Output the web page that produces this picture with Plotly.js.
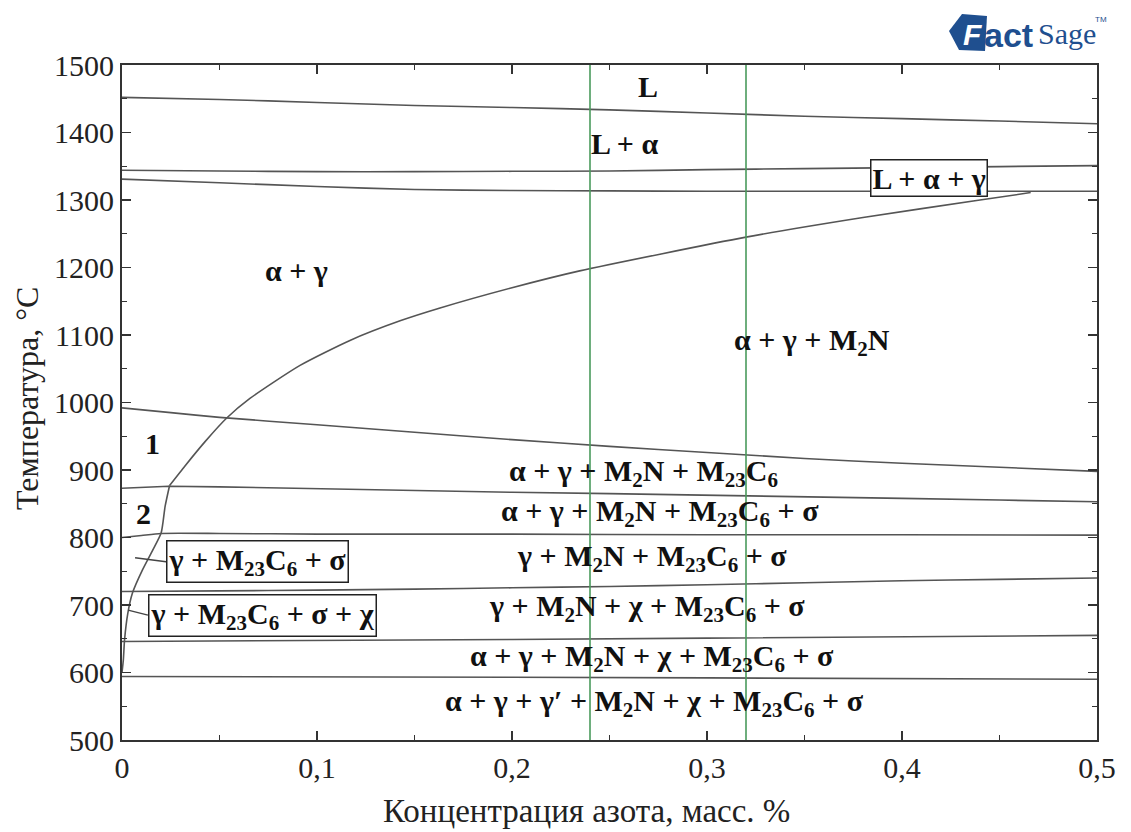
<!DOCTYPE html>
<html>
<head>
<meta charset="utf-8">
<script src="https://cdn.plot.ly/plotly-3.0.1.min.js"></script>
<style>
  html, body { margin: 0; padding: 0; background: #fff; }
  #chart { width: 1131px; height: 832px; }
</style>
</head>
<body>
<div id="chart"></div>
<script>
// Nitrogen content, mass % (common grid for the near-horizontal boundaries)
const nGrid = [0, 0.05, 0.1, 0.15, 0.2, 0.25, 0.3, 0.35, 0.4, 0.45, 0.5];

// Liquidus (L / L + α)
const liquidusT = [1452, 1449, 1444.5, 1440, 1437, 1433.5, 1429, 1424, 1420.5, 1417, 1413];
// L + α / L + α + γ
const gammaStartT = [1344, 1343, 1342, 1342, 1342.5, 1343, 1345, 1346.5, 1348, 1349.5, 1351];
// Solidus (L + α + γ / α + γ)
const solidusT = [1331, 1325.5, 1320, 1315.5, 1314, 1313.5, 1313, 1313, 1313, 1313, 1313];

// M23C6 solvus
const m23c6X = [0, 0.025, 0.05, 0.1, 0.15, 0.2, 0.25, 0.3, 0.35, 0.4, 0.45, 0.5];
const m23c6T = [992, 985, 978, 967, 956, 945, 935, 926, 917, 910, 904, 898];

// σ solvus
const sigmaX = [0, 0.024, 0.05, 0.1, 0.15, 0.2, 0.25, 0.3, 0.35, 0.4, 0.45, 0.5];
const sigmaT = [873, 876, 875, 872, 869, 867, 865, 863, 861, 858, 855.5, 853];

// α dissolution
const alphaEndX = [0, 0.01, 0.02, 0.05, 0.1, 0.2, 0.3, 0.4, 0.5];
const alphaEndT = [800, 803, 806, 806, 805, 805, 804, 804, 803.5];

// χ solvus
const chiT = [720, 721, 722, 723.5, 725.5, 727.5, 730, 733, 736, 738, 740];

// α re-appearance
const alpha2X = [0, 0.1, 0.2, 0.3, 0.4, 0.5];
const alpha2T = [646, 647, 649, 651, 653, 655];

// γ′ solvus
const gammaPrimeT = [594, 594, 593, 592, 591, 590];

// M2N solvus, lower branch (up to the σ solvus)
const m2nLowX = [0, 0.0007, 0.0013, 0.003, 0.0054, 0.0105, 0.0157, 0.0201, 0.0221, 0.0244];
const m2nLowT = [600, 619, 648, 688, 718, 752, 781, 807, 846, 877];
// M2N solvus, upper branch (up to the solidus)
const m2nHighX = [0.0244, 0.0323, 0.0426, 0.0537, 0.0656, 0.0913, 0.1169, 0.1426, 0.1631, 0.2, 0.2347, 0.32, 0.38, 0.44, 0.466];
const m2nHighT = [877, 906, 942, 977, 1006, 1055, 1092, 1121, 1140, 1170, 1195, 1245, 1274, 1300, 1311];

// Compositions of interest
const markedN = [0.24, 0.32];

// Axis ticks
const xTickVals = [0, 0.1, 0.2, 0.3, 0.4, 0.5];
const xTickText = ['0', '0,1', '0,2', '0,3', '0,4', '0,5'];
const yTickVals = [500, 600, 700, 800, 900, 1000, 1100, 1200, 1300, 1400, 1500];

// Axis names
const xName = 'Концентрация азота, масс. %';
const yName = 'Температура, °C';

// Phase field names
const phaseL = 'L';
const phaseLA = 'L + α';
const phaseLAG = 'L + α + γ';
const phaseAG = 'α + γ';
const phaseAGN = 'α + γ + M<sub>2</sub>N';
const phase1 = '1';
const phase2 = '2';
const phaseRow1 = 'α + γ + M<sub>2</sub>N + M<sub>23</sub>C<sub>6</sub>';
const phaseRow2 = 'α + γ + M<sub>2</sub>N + M<sub>23</sub>C<sub>6</sub> + σ';
const phaseRow3 = 'γ + M<sub>2</sub>N + M<sub>23</sub>C<sub>6</sub> + σ';
const phaseRow4 = 'γ + M<sub>2</sub>N + χ + M<sub>23</sub>C<sub>6</sub> + σ';
const phaseRow5 = 'α + γ + M<sub>2</sub>N + χ + M<sub>23</sub>C<sub>6</sub> + σ';
const phaseRow6 = 'α + γ + γ′ + M<sub>2</sub>N + χ + M<sub>23</sub>C<sub>6</sub> + σ';
const phaseBox1 = 'γ + M<sub>23</sub>C<sub>6</sub> + σ';
const phaseBox2 = 'γ + M<sub>23</sub>C<sub>6</sub> + σ + χ';

const LINE = { color: '#555', width: 1.6 };
const SERIF = 'Liberation Serif';

function boundary(x, y, shape) {
  return { x: x, y: y, mode: 'lines', type: 'scatter', hoverinfo: 'skip',
           line: Object.assign({}, LINE, { shape: shape || 'linear', smoothing: 0.6 }), showlegend: false };
}

const traces = [
  boundary(nGrid, liquidusT, 'spline'),
  boundary(nGrid, gammaStartT, 'spline'),
  boundary(nGrid, solidusT, 'spline'),
  boundary(m23c6X, m23c6T, 'spline'),
  boundary(sigmaX, sigmaT),
  boundary(alphaEndX, alphaEndT, 'spline'),
  boundary(nGrid, chiT, 'spline'),
  boundary(alpha2X, alpha2T),
  boundary(alpha2X, gammaPrimeT),
  boundary(m2nLowX, m2nLowT, 'spline'),
  boundary(m2nHighX, m2nHighT, 'spline')
];
markedN.forEach(function (n) {
  traces.push({ x: [n, n], y: [500, 1500], mode: 'lines', type: 'scatter', hoverinfo: 'skip',
                line: { color: '#4a9a5c', width: 1.6 }, showlegend: false });
});

// pixel -> paper helpers for decorations outside the data area
const L = 122, T = 65, W = 975, H = 675;
const pxX = function (p) { return (p - L) / W; };
const pxY = function (p) { return (T + H - p) / H; };

const LABEL_FONT = { family: SERIF, size: 30, color: '#111' };
const BOXED = { bgcolor: '#fff', bordercolor: '#222', borderwidth: 1.5, borderpad: 1 };

function label(text, x, y, extra) {
  return Object.assign({ text: '<b>' + text + '</b>', x: x, y: y, xref: 'x', yref: 'y',
    xanchor: 'center', yanchor: 'middle', showarrow: false, font: LABEL_FONT }, extra || {});
}
function leader(text, tipX, tipT, boxLeftX, boxT) {
  return label(text, tipX, tipT, Object.assign({
    showarrow: true, arrowhead: 0, arrowwidth: 1.4, arrowcolor: '#444',
    ax: boxLeftX, ay: boxT, axref: 'x', ayref: 'y', xanchor: 'left' }, BOXED));
}
function paperText(text, px, py, font, anchor, angle) {
  return { text: text, xref: 'paper', yref: 'paper', x: pxX(px), y: pxY(py), textangle: angle || 0,
           xanchor: anchor || 'left', yanchor: 'middle', showarrow: false, font: font };
}

const annotations = [
  label(phaseL, 0.2696, 1468),
  label(phaseLA, 0.2575, 1384),
  label(phaseLAG, 0.4138, 1332, BOXED),
  label(phaseAG, 0.0895, 1196),
  label(phaseAGN, 0.354, 1089),
  label(phase1, 0.0157, 939),
  label(phase2, 0.011, 836),
  label(phaseRow1, 0.2676, 896),
  label(phaseRow2, 0.276, 836),
  label(phaseRow3, 0.2717, 770),
  label(phaseRow4, 0.269, 696),
  label(phaseRow5, 0.272, 622),
  label(phaseRow6, 0.273, 555),
  leader(phaseBox1, 0.0067, 770, 0.0226, 764),
  leader(phaseBox2, 0.0031, 692.5, 0.0133, 685),
  // axis names
  paperText(xName, 586, 811, { family: SERIF, size: 33, color: '#222' }, 'center'),
  paperText(yName, 27, 399, { family: SERIF, size: 32, color: '#222' }, 'center', -90),
  // FactSage logo lettering
  paperText('<b><i>F</i></b>', 972, 34, { family: 'Liberation Sans', size: 30, color: '#fff' }, 'center'),
  paperText('<b>act</b>', 982, 35, { family: 'Liberation Sans', size: 34, color: '#1f4f8f' }),
  paperText('Sage', 1036, 33, { family: 'Liberation Sans Narrow', size: 30, color: '#1f4f8f' }),
  paperText('TM', 1093, 19, { family: 'Liberation Sans', size: 8, color: '#1f4f8f' })
];

const shapes = [
  { type: 'path', xref: 'paper', yref: 'paper', layer: 'below', fillcolor: '#1f4f8f', line: { width: 0 },
    path: 'M ' + pxX(949) + ' ' + pxY(31) + ' L ' + pxX(962) + ' ' + pxY(14) + ' L ' + pxX(987) + ' ' + pxY(16) +
          ' L ' + pxX(985) + ' ' + pxY(51) + ' L ' + pxX(959) + ' ' + pxY(50) + ' Z' }
];

const axisCommon = {
  showline: true, linecolor: '#333', linewidth: 2, mirror: 'allticks',
  ticks: 'inside', ticklen: 9, tickwidth: 1.5, tickcolor: '#333',
  showgrid: false, zeroline: false,
  tickfont: { family: SERIF, size: 30, color: '#222' }
};

const layout = {
  width: 1131, height: 832,
  margin: { l: L, r: 1131 - L - W, t: T, b: 832 - T - H },
  paper_bgcolor: '#fff', plot_bgcolor: '#fff',
  showlegend: false,
  xaxis: Object.assign({}, axisCommon, {
    range: [0, 0.5], tickmode: 'array', tickvals: xTickVals, ticktext: xTickText,
    minor: { tickmode: 'linear', tick0: 0, dtick: 0.05, ticks: 'inside', ticklen: 5, tickwidth: 1.3, tickcolor: '#333' }
  }),
  yaxis: Object.assign({}, axisCommon, {
    range: [500, 1500], tickmode: 'array', tickvals: yTickVals,
    minor: { tickmode: 'linear', tick0: 500, dtick: 50, ticks: 'inside', ticklen: 5, tickwidth: 1.3, tickcolor: '#333' }
  }),
  annotations: annotations,
  shapes: shapes
};

Plotly.newPlot('chart', traces, layout, { staticPlot: true, displayModeBar: false });
</script>
</body>
</html>
